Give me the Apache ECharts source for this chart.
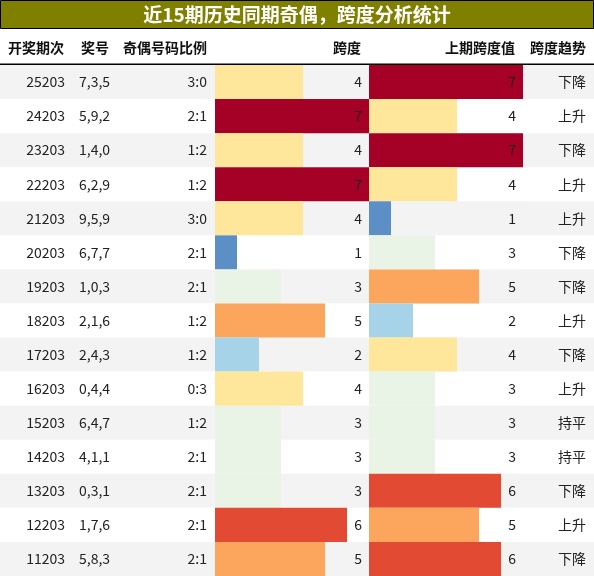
<!DOCTYPE html>
<html><head><meta charset="utf-8">
<script src="https://cdn.jsdelivr.net/npm/echarts@6/dist/echarts.min.js"></script>
<style>html,body{margin:0;padding:0;background:#fff}#c{width:594px;height:576px}</style>
</head><body><div id="c"></div>
<script>
var periods=['25203','24203','23203','22203','21203','20203','19203','18203','17203','16203','15203','14203','13203','12203','11203'];
var numbers=['7,3,5','5,9,2','1,4,0','6,2,9','9,5,9','6,7,7','1,0,3','2,1,6','2,4,3','0,4,4','6,4,7','4,1,1','0,3,1','1,7,6','5,8,3'];
var ratios=['3:0','2:1','1:2','1:2','3:0','2:1','2:1','1:2','1:2','0:3','1:2','2:1','2:1','2:1','2:1'];
var spans=[4,7,4,7,4,1,3,5,2,4,3,3,3,6,5];
var prevSpans=[7,4,7,4,1,3,5,2,4,3,3,3,6,5,6];
var trends=['下降','上升','下降','上升','上升','下降','下降','上升','下降','上升','持平','持平','下降','上升','下降'];
var headers=['开奖期次','奖号','奇偶号码比例','跨度','上期跨度值','跨度趋势'];
var palette={1:'#5b8fc6',2:'#a6d3e7',3:'#e9f4e6',4:'#fee69a',5:'#fca55c',6:'#e34a33',7:'#a50026'};
var rowBg=function(i){return i%2===0?'#f3f3f3':'#ffffff';};
var idx=periods.map(function(_,i){return i;});
var font='"Noto Sans CJK SC","Liberation Sans",sans-serif';
var TOP=65,H=511;
function grid(l,w){return {left:l,top:TOP,width:w,height:H};}
function yAx(g){return {type:'category',data:periods,inverse:true,gridIndex:g,show:false,boundaryGap:true};}
function barSeries(g,vals){
  return [
    {type:'bar',xAxisIndex:g,yAxisIndex:g,data:vals.map(function(v,i){return {value:7,itemStyle:{color:rowBg(i)}};}),barWidth:'100%',barGap:'-100%',silent:true,z:1},
    {type:'bar',xAxisIndex:g,yAxisIndex:g,data:vals.map(function(v){return {value:v,itemStyle:{color:palette[v]}};}),barWidth:'100%',barGap:'-100%',z:2},
    {type:'bar',xAxisIndex:g,yAxisIndex:g,data:vals.map(function(v){return 7;}),barWidth:'100%',barGap:'-100%',z:3,itemStyle:{color:'rgba(0,0,0,0)'},
     label:{show:true,position:'insideRight',distance:7,color:'#222',fontSize:14,fontFamily:font,formatter:function(p){return vals[p.dataIndex];}}}
  ];
}
var chart=echarts.init(document.getElementById('c'));
var option={
  animation:false,
  grid:[grid(215,154),grid(369,154),grid(0,594)],
  xAxis:[{type:'value',min:0,max:7,gridIndex:0,show:false},{type:'value',min:0,max:7,gridIndex:1,show:false},{type:'value',min:0,max:594,gridIndex:2,show:false}],
  yAxis:[yAx(0),yAx(1),yAx(2)],
  graphic:[
    {type:'rect',shape:{x:0.5,y:0.5,width:593,height:28},style:{fill:'#808000',stroke:'#000',lineWidth:1}},
    {type:'text',x:297,y:15,style:{text:'近15期历史同期奇偶，跨度分析统计',fill:'#fff',font:'bold 19px '+font,align:'center',verticalAlign:'middle'}},
    {type:'text',x:8,y:48,style:{text:headers[0],fill:'#111',font:'bold 14px '+font,align:'left',verticalAlign:'middle'}},
    {type:'text',x:81,y:48,style:{text:headers[1],fill:'#111',font:'bold 14px '+font,align:'left',verticalAlign:'middle'}},
    {type:'text',x:207,y:48,style:{text:headers[2],fill:'#111',font:'bold 14px '+font,align:'right',verticalAlign:'middle'}},
    {type:'text',x:361,y:48,style:{text:headers[3],fill:'#111',font:'bold 14px '+font,align:'right',verticalAlign:'middle'}},
    {type:'text',x:515,y:48,style:{text:headers[4],fill:'#111',font:'bold 14px '+font,align:'right',verticalAlign:'middle'}},
    {type:'text',x:586,y:48,style:{text:headers[5],fill:'#111',font:'bold 14px '+font,align:'right',verticalAlign:'middle'}},
    {type:'rect',shape:{x:0,y:63.5,width:594,height:1.5},style:{fill:'#000'},z:100}
  ],
  series:[].concat(barSeries(0,spans),barSeries(1,prevSpans),[{
    type:'custom',xAxisIndex:2,yAxisIndex:2,data:idx,z:0,
    renderItem:function(params,api){
      var i=api.value(0);var c=api.coord([0,i]);var s=api.size([0,1]);var h=s[1];
      var y0=c[1]-h/2;
      var st={fill:'#222',font:'14px '+font,verticalAlign:'middle'};
      function t(x,txt,al){return {type:'text',style:Object.assign({},st,{x:x,y:c[1],text:txt,align:al})};}
      return {type:'group',children:[
        {type:'rect',shape:{x:0,y:y0,width:594,height:h},style:{fill:rowBg(i)}},
        t(65,periods[i],'right'),t(79,numbers[i],'left'),t(207,ratios[i],'right'),t(586,trends[i],'right')
      ]};
    }
  }])
};
chart.setOption(option);
</script></body></html>
